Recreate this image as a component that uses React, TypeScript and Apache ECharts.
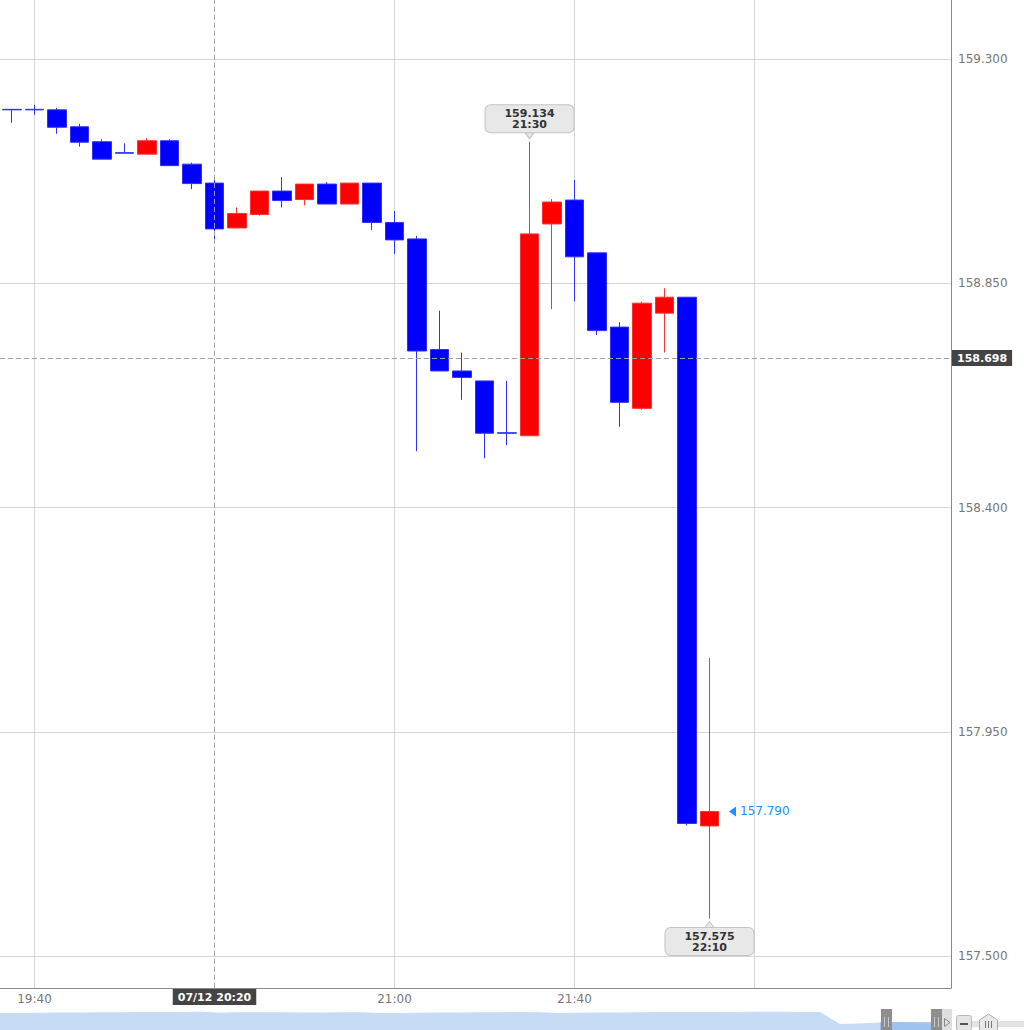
import React, { useEffect, useRef } from 'react';
import * as echarts from 'echarts';

// ---- data (5-minute candles) ----
const times = [
  '19:35', '19:40', '19:45', '19:50', '19:55', '20:00', '20:05', '20:10',
  '20:15', '20:20', '20:25', '20:30', '20:35', '20:40', '20:45', '20:50',
  '20:55', '21:00', '21:05', '21:10', '21:15', '21:20', '21:25', '21:30',
  '21:35', '21:40', '21:45', '21:50', '21:55', '22:00', '22:05', '22:10',
];
const opens = [
  159.199, 159.199, 159.198, 159.164, 159.134, 159.112, 159.109, 159.136,
  159.089, 159.051, 158.961, 158.988, 159.035, 159.018, 159.049, 159.009,
  159.051, 158.972, 158.939, 158.717, 158.674, 158.654, 158.550, 158.544,
  158.969, 159.017, 158.911, 158.762, 158.599, 158.790, 158.822, 157.761,
];
const closes = [
  159.198, 159.198, 159.163, 159.133, 159.099, 159.111, 159.136, 159.086,
  159.050, 158.959, 158.990, 159.035, 159.016, 159.049, 159.009, 159.051,
  158.972, 158.937, 158.714, 158.674, 158.661, 158.549, 158.549, 158.949,
  159.013, 158.903, 158.755, 158.611, 158.810, 158.822, 157.766, 157.790,
];
const lows = [
  159.172, 159.188, 159.150, 159.124, 159.099, 159.111, 159.109, 159.086,
  159.039, 158.935, 158.961, 158.986, 159.002, 159.006, 159.009, 159.009,
  158.957, 158.909, 158.513, 158.674, 158.616, 158.499, 158.525, 158.544,
  158.798, 158.814, 158.746, 158.562, 158.596, 158.711, 157.762, 157.575,
];
const highs = [
  159.199, 159.208, 159.202, 159.170, 159.139, 159.131, 159.141, 159.139,
  159.092, 159.063, 159.002, 159.035, 159.063, 159.049, 159.053, 159.051,
  159.051, 158.995, 158.945, 158.795, 158.711, 158.654, 158.654, 159.134,
  159.019, 159.057, 158.911, 158.772, 158.813, 158.840, 158.822, 158.098,
];

const priceTicks = [157.5, 157.95, 158.4, 158.85, 159.3];
const gridTimes = ['19:40', '21:00', '21:40', '22:20'];
const labelTimes = ['19:40', '21:00', '21:40'];
const crossDate = '07/12';
const crossTime = '20:20';
const crossPrice = 158.698;
const highMarkTime = '21:30';
const lowMarkTime = '22:10';

// navigator (long history overview)
const navValues = [
  16.5, 16.5, 16.8, 17.0, 17.0, 17.2, 17.2, 17.5, 17.5, 17.5, 17.8, 16.8,
  17.3, 17.3, 17.2, 17.0, 17.0, 17.2, 17.3, 16.5, 16.6, 16.8, 17.0, 17.0,
  17.2, 17.3, 17.5, 17.2, 16.5, 16.8, 17.0, 17.0, 17.2, 17.5, 17.5, 17.4,
  17.5, 17.6, 17.8, 17.8, 17.6, 17.5, 5.5, 6.0, 7.0, 7.5, 7.2, 7.0,
];
const NAV_SEL_START = 44;

// ---- layout constants ----
const X_MIN = 1172.333;
const X_MAX = 1383.667;
const Y_MIN = 157.4358;
const Y_MAX = 159.4184;

const toMin = (t: string) => {
  const [h, m] = t.split(':').map(Number);
  return h * 60 + m;
};
const fmtMin = (v: number) => {
  const h = Math.floor(v / 60);
  const m = Math.round(v - h * 60);
  return `${h}:${String(m).padStart(2, '0')}`;
};

export default function App() {
  const ref = useRef<HTMLDivElement>(null);

  useEffect(() => {
    if (!ref.current) return;
    const chart = echarts.init(ref.current, undefined, { renderer: 'svg' });

    const candleData = times.map((t, i) => [toMin(t), opens[i], closes[i], lows[i], highs[i]]);
    const hiIdx = times.indexOf(highMarkTime);
    const loIdx = times.indexOf(lowMarkTime);
    const lastIdx = times.length - 1;

    const calloutLabel = {
      show: true,
      distance: 0,
      backgroundColor: '#e8e8e8',
      borderColor: '#c4c4c4',
      borderWidth: 1,
      borderRadius: 5,
      padding: [3, 19, 2, 19],
      color: '#333',
      fontWeight: 'bold' as const,
      fontSize: 11,
      lineHeight: 11,
      align: 'center' as const,
    };

    const option: any = {
      animation: false,
      textStyle: { fontFamily: 'DejaVu Sans' },
      grid: [
        { left: 0, top: 0, right: 73, bottom: 42 },
        { left: 0, right: 84, top: 1005, bottom: 0 },
      ],
      xAxis: [
        {
          type: 'value',
          gridIndex: 0,
          min: X_MIN,
          max: X_MAX,
          axisLine: { show: true, onZero: false, lineStyle: { color: '#8a8a8a' } },
          axisTick: { show: false, customValues: gridTimes.map(toMin) },
          axisLabel: {
            customValues: labelTimes.map(toMin),
            formatter: (v: number) => fmtMin(v),
            color: '#777',
            fontSize: 12,
            margin: 5,
          },
          splitLine: { show: true, lineStyle: { color: '#d6d6d6', width: 1 } },
        },
        {
          type: 'category',
          gridIndex: 1,
          show: false,
          boundaryGap: false,
          data: navValues.map((_, i) => i),
        },
      ],
      yAxis: [
        {
          type: 'value',
          gridIndex: 0,
          position: 'right',
          min: Y_MIN,
          max: Y_MAX,
          axisLine: { show: true, onZero: false, lineStyle: { color: '#8a8a8a' } },
          axisTick: { show: false, customValues: priceTicks },
          axisLabel: {
            customValues: priceTicks,
            formatter: (v: number) => v.toFixed(3),
            color: '#777',
            fontSize: 12,
            margin: 7,
          },
          splitLine: { show: true, lineStyle: { color: '#d6d6d6', width: 1 } },
        },
        { type: 'value', gridIndex: 1, show: false, min: 0, max: 25 },
      ],
      series: [
        {
          type: 'candlestick',
          xAxisIndex: 0,
          yAxisIndex: 0,
          data: candleData,
          barWidth: 19,
          itemStyle: {
            color: '#ff0000',
            color0: '#0000ff',
            borderColor: '#ff3030',
            borderColor0: '#3030ff',
            borderColorDoji: '#3030ff',
            borderWidth: 1,
          },
          markLine: {
            silent: true,
            symbol: ['none', 'none'],
            lineStyle: { color: '#a0a0a0', type: [5, 3], width: 1 },
            label: {
              show: true,
              backgroundColor: '#444',
              color: '#fff',
              fontWeight: 'bold',
              fontSize: 11,
              padding: [3, 5, 2, 5],
              distance: 1,
            },
            data: [
              { xAxis: toMin(crossTime), label: { position: 'start', formatter: `${crossDate} ${crossTime}` } },
              { yAxis: crossPrice, label: { position: 'end', formatter: crossPrice.toFixed(3) } },
            ],
          },
          markPoint: {
            silent: true,
            data: [
              {
                coord: [toMin(times[hiIdx]), highs[hiIdx]],
                symbol: 'triangle',
                symbolRotate: 180,
                symbolSize: [9, 6],
                symbolOffset: [0, -6],
                itemStyle: { color: '#e8e8e8', borderColor: '#c4c4c4', borderWidth: 1 },
                label: { ...calloutLabel, position: 'top', formatter: `${highs[hiIdx].toFixed(3)}\n${times[hiIdx]}` },
              },
              {
                coord: [toMin(times[loIdx]), lows[loIdx]],
                symbol: 'triangle',
                symbolSize: [9, 6],
                symbolOffset: [0, 6],
                itemStyle: { color: '#e8e8e8', borderColor: '#c4c4c4', borderWidth: 1 },
                label: { ...calloutLabel, position: 'bottom', formatter: `${lows[loIdx].toFixed(3)}\n${times[loIdx]}` },
              },
              {
                coord: [toMin(times[lastIdx]), closes[lastIdx]],
                symbol: 'triangle',
                symbolRotate: 90,
                symbolSize: [10, 7],
                symbolOffset: [23, 0],
                itemStyle: { color: '#1e90ff' },
                label: {
                  show: true,
                  position: 'right',
                  distance: 4,
                  color: '#1e90ff',
                  fontSize: 12,
                  formatter: closes[lastIdx].toFixed(3),
                },
              },
            ],
          },
        },
        {
          type: 'line',
          xAxisIndex: 1,
          yAxisIndex: 1,
          data: navValues,
          symbol: 'none',
          silent: true,
          lineStyle: { width: 1, color: '#c6dcf5' },
          areaStyle: { color: '#c6dcf5', opacity: 1 },
        },
        {
          type: 'line',
          xAxisIndex: 1,
          yAxisIndex: 1,
          data: navValues.map((v, i) => (i >= NAV_SEL_START ? v : '-')),
          symbol: 'none',
          silent: true,
          lineStyle: { width: 1, color: '#9ec3f0' },
          areaStyle: { color: '#9ec3f0', opacity: 1 },
        },
      ],
      graphic: [
        { type: 'rect', z: 100, shape: { x: 881, y: 1009, width: 11, height: 21 }, style: { fill: '#8e8e8e' } },
        { type: 'line', z: 101, shape: { x1: 884.5, y1: 1017, x2: 884.5, y2: 1027 }, style: { stroke: '#c8c8c8', lineWidth: 1 } },
        { type: 'line', z: 101, shape: { x1: 888.5, y1: 1017, x2: 888.5, y2: 1027 }, style: { stroke: '#c8c8c8', lineWidth: 1 } },
        { type: 'rect', z: 100, shape: { x: 931, y: 1009, width: 11, height: 21 }, style: { fill: '#8e8e8e' } },
        { type: 'line', z: 101, shape: { x1: 934.5, y1: 1017, x2: 934.5, y2: 1027 }, style: { stroke: '#c8c8c8', lineWidth: 1 } },
        { type: 'line', z: 101, shape: { x1: 938.5, y1: 1017, x2: 938.5, y2: 1027 }, style: { stroke: '#c8c8c8', lineWidth: 1 } },
        { type: 'rect', z: 100, shape: { x: 942, y: 1009, width: 10, height: 21 }, style: { fill: '#dedede' } },
        { type: 'polygon', z: 101, shape: { points: [[944.5, 1018.5], [950, 1022.5], [944.5, 1026.5]] }, style: { fill: 'none', stroke: '#888', lineWidth: 1 } },
        { type: 'rect', z: 100, shape: { x: 972, y: 1021, width: 52, height: 6 }, style: { fill: '#e2e2e2' } },
        { type: 'rect', z: 101, shape: { x: 956.5, y: 1015.5, width: 15, height: 15, r: 2 }, style: { fill: '#e4e4e4', stroke: '#b8b8b8', lineWidth: 1 } },
        { type: 'line', z: 102, shape: { x1: 960, y1: 1024, x2: 968, y2: 1024 }, style: { stroke: '#555', lineWidth: 2 } },
        { type: 'polygon', z: 101, shape: { points: [[979.5, 1020], [988.5, 1014], [997.5, 1020], [997.5, 1031], [979.5, 1031]] }, style: { fill: '#e8e8e8', stroke: '#aaa', lineWidth: 1 } },
        { type: 'line', z: 102, shape: { x1: 985.5, y1: 1021, x2: 985.5, y2: 1028 }, style: { stroke: '#777', lineWidth: 1 } },
        { type: 'line', z: 102, shape: { x1: 988.5, y1: 1021, x2: 988.5, y2: 1028 }, style: { stroke: '#777', lineWidth: 1 } },
        { type: 'line', z: 102, shape: { x1: 991.5, y1: 1021, x2: 991.5, y2: 1028 }, style: { stroke: '#777', lineWidth: 1 } },
      ],
    };

    chart.setOption(option);
    return () => chart.dispose();
  }, []);

  return (
    <div
      ref={ref}
      style={{ position: 'absolute', left: 0, top: 0, width: 1024, height: 1030, background: '#fff' }}
    />
  );
}
